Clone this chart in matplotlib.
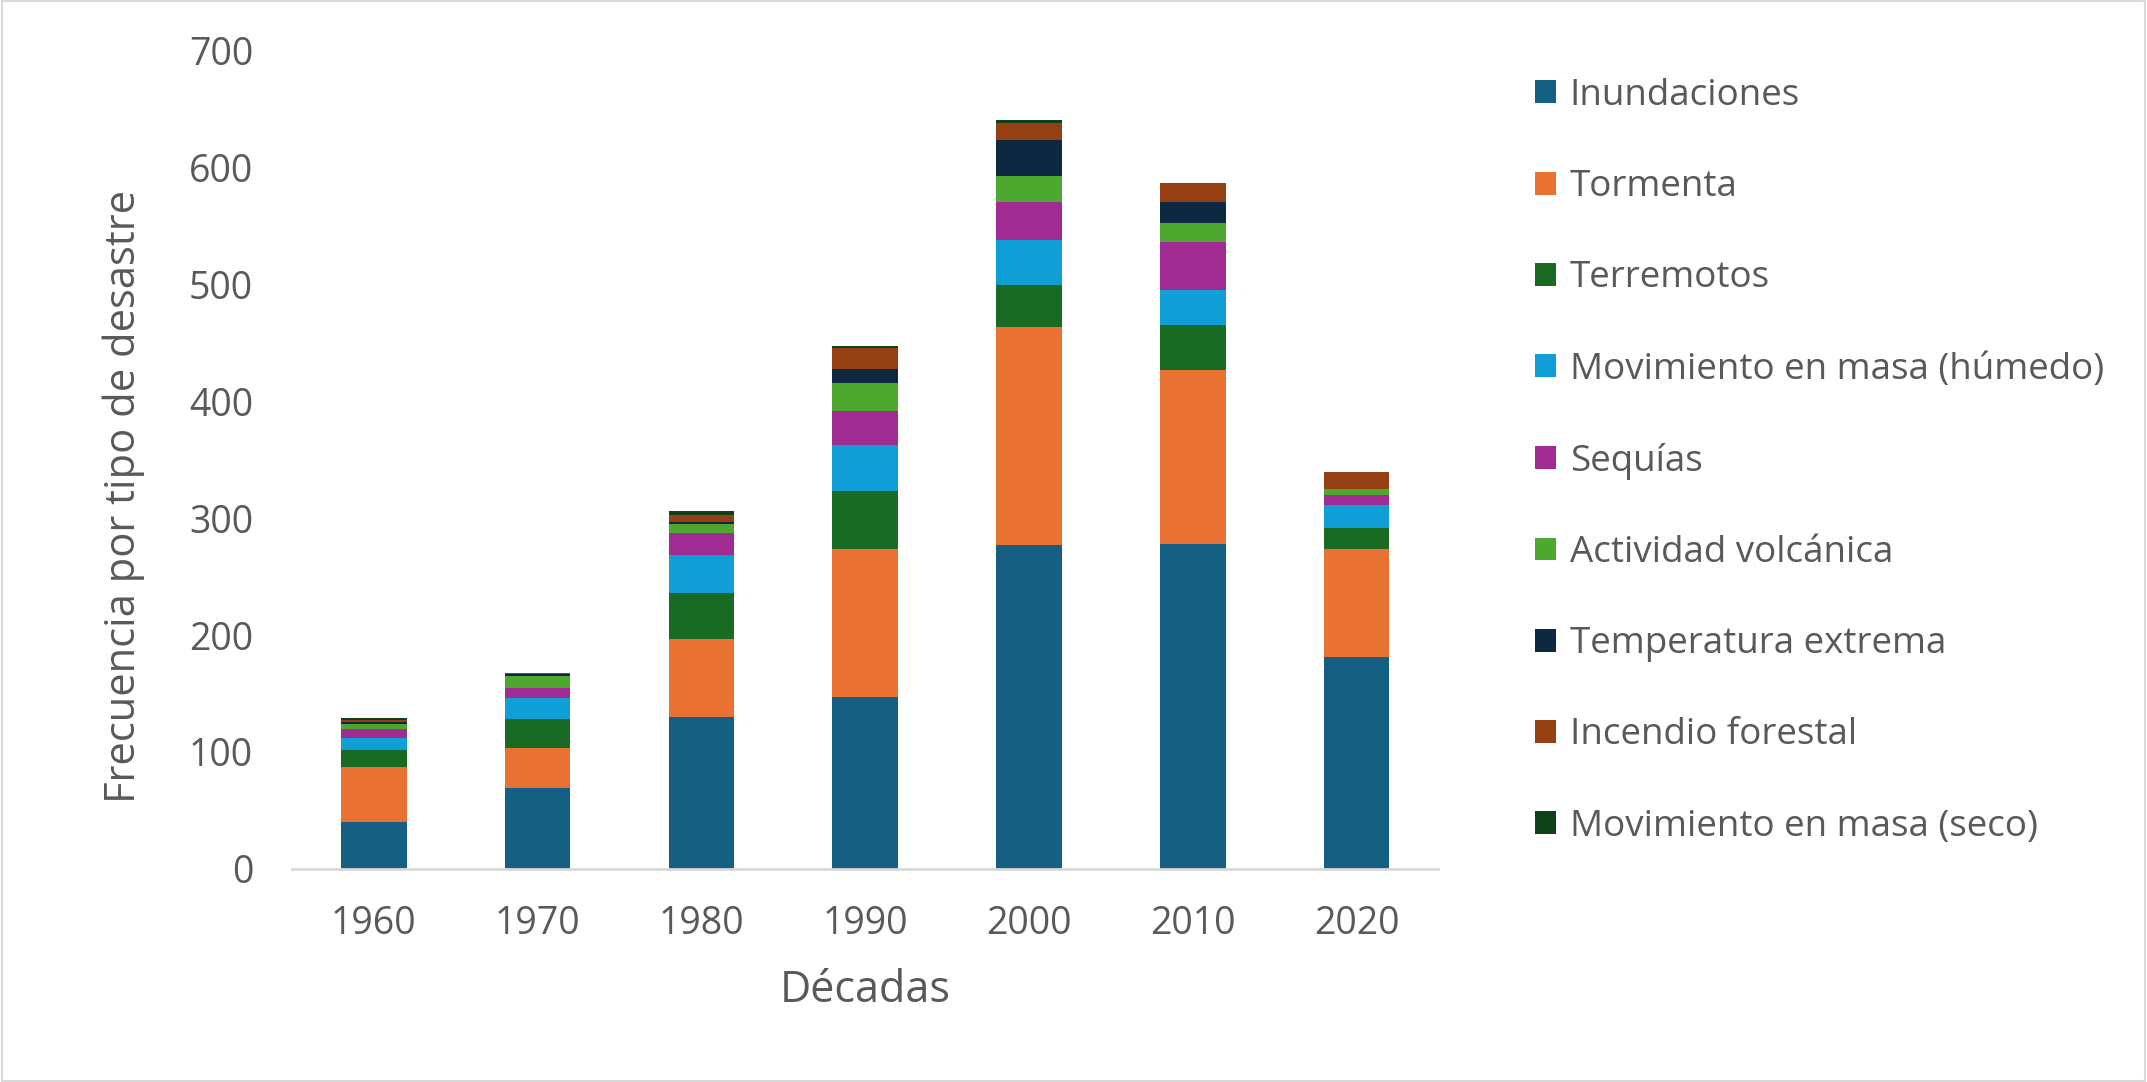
import matplotlib
matplotlib.use("Agg")
import matplotlib.pyplot as plt
from matplotlib.patches import Rectangle
import numpy as np

plt.rcParams['font.family'] = ['Open Sans', 'DejaVu Sans']

decades = ['1960', '1970', '1980', '1990', '2000', '2010', '2020']
series_names = ['Inundaciones', 'Tormenta', 'Terremotos', 'Movimiento en masa (húmedo)',
                'Sequías', 'Actividad volcánica', 'Temperatura extrema',
                'Incendio forestal', 'Movimiento en masa (seco)']

inundaciones = [40, 69, 130, 147, 277, 278, 181]
tormenta = [47, 34, 67, 127, 187, 149, 93]
terremotos = [15, 25, 39, 49, 36, 38, 18]
mov_humedo = [10, 18, 33, 40, 38, 30, 19]
sequias = [8, 9, 18, 29, 33, 41, 9]
volcanica = [4, 10, 8, 24, 22, 17, 5]
temperatura = [2, 2, 2, 12, 31, 18, 0]
incendio = [1, 1, 6, 18, 14, 16, 15]
mov_seco = [2, 0, 3, 1, 3, 0, 0]

colors = ['#156082', '#E97132', '#196B24', '#0F9ED5', '#A02B93',
          '#4EA72E', '#0E2841', '#954012', '#10401A']

values = [inundaciones, tormenta, terremotos, mov_humedo, sequias,
          volcanica, temperatura, incendio, mov_seco]

text_color = '#595959'

fig = plt.figure(figsize=(21.47, 10.82), dpi=100)
ax = fig.add_axes([0.136, 0.197, 0.534, 0.756])

x = np.arange(len(decades))
bottom = np.zeros(len(decades))
handles = []
for name, vals, c in zip(series_names, values, colors):
    b = ax.bar(x, vals, width=0.4, bottom=bottom, color=c, label=name)
    handles.append(b)
    bottom += np.array(vals)

ax.set_xlim(-0.5, len(decades) - 0.5)
ax.set_ylim(0, 700)
ax.set_yticks(range(0, 701, 100))
ax.set_xticks(x)
ax.set_xticklabels(decades)
for s in ['top', 'right', 'left']:
    ax.spines[s].set_visible(False)
ax.spines['bottom'].set_color('#D9D9D9')
ax.spines['bottom'].set_linewidth(2)
ax.tick_params(axis='both', length=0, labelsize=27, colors=text_color)
ax.tick_params(axis='y', pad=28)
ax.tick_params(axis='x', pad=26)

ax.set_xlabel('Décadas', fontsize=31, color=text_color)
ax.xaxis.set_label_coords(0.5, -0.122)
ax.set_ylabel('Frecuencia por tipo de desastre', fontsize=30, color=text_color)
ax.yaxis.set_label_coords(-0.128, 0.455)

leg = fig.legend(handles=handles, labels=series_names, loc='upper left',
                 bbox_to_anchor=(0.715, 0.928), frameon=False, fontsize=26.5,
                 handlelength=0.58, handleheight=0.58, handletextpad=0.36,
                 labelspacing=1.5, borderaxespad=0, borderpad=0)
for t in leg.get_texts():
    t.set_color(text_color)

fig.patches.append(Rectangle((0.0008, 0.0012), 0.9984, 0.9976, transform=fig.transFigure,
                             fill=False, edgecolor='#D9D9D9', linewidth=1.5))

fig.savefig('out.png', dpi=100)
